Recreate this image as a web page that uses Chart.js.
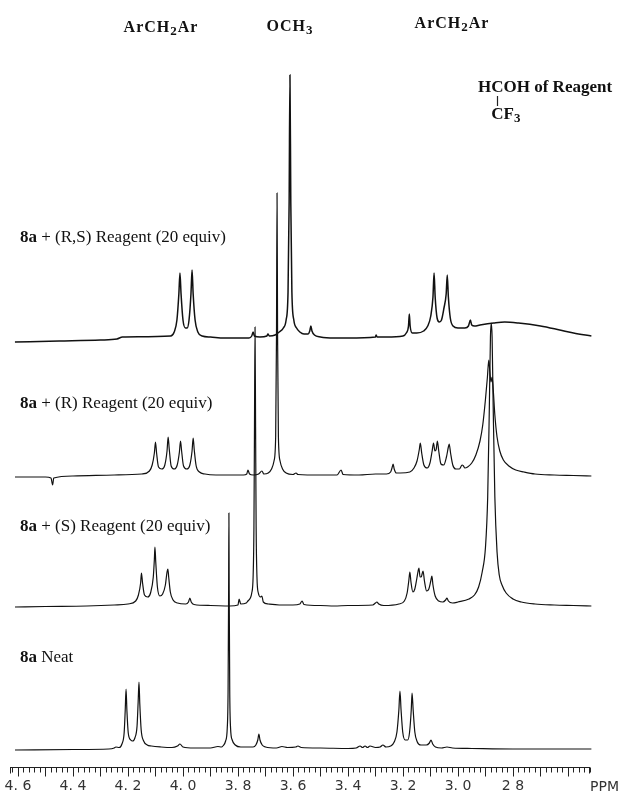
<!DOCTYPE html>
<html>
<head>
<meta charset="utf-8">
<script src="https://cdn.jsdelivr.net/npm/chart.js@4.4.1/dist/chart.umd.min.js"></script>
<style>
  html, body { margin: 0; padding: 0; background: #fff; }
  #wrap { width: 621px; height: 800px; position: relative; }
</style>
</head>
<body>
<div id="wrap"><canvas id="c" width="621" height="800"></canvas></div>
<script>
// ---------------- DATA (ppm, intensity above own baseline) ----------------
const tickValues = [4.6, 4.4, 4.2, 4.0, 3.8, 3.6, 3.4, 3.2, 3.0, 2.8];
const tickLabels = ["4. 6", "4. 4", "4. 2", "4. 0", "3. 8", "3. 6", "3. 4", "3. 2", "3. 0", "2 8"];
const axisUnit = "PPM";

const traceNames = [
  "8a + (R,S) Reagent (20 equiv)",
  "8a + (R) Reagent (20 equiv)",
  "8a + (S) Reagent (20 equiv)",
  "8a Neat"
];

const rsReagent = [
  [4.611,0],[4.45,1],[4.30,2],[4.24,3],[4.22,5],
  [4.045,6],[4.032,10],[4.022,22],[4.015,48],[4.011,69],[4.007,48],[4.000,22],[3.991,14],[3.985,14],
  [3.978,22],[3.971,48],[3.967,72],[3.963,48],[3.956,22],[3.946,10],[3.930,6],[3.90,5],[3.85,4],[3.80,4],
  [3.76,4],[3.750,6],[3.745,10],[3.740,6],[3.72,5],[3.695,6],[3.691,8],[3.686,6],[3.665,7],
  [3.650,10],[3.635,14],[3.625,22],[3.618,50],[3.614,140],[3.611,267],[3.608,140],[3.604,50],[3.597,22],
  [3.587,14],[3.575,10],[3.560,8],[3.545,8],[3.539,11],[3.535,16],[3.531,11],[3.522,7],[3.50,5],
  [3.45,4],[3.40,4],[3.300,5],[3.298,7],[3.294,5],[3.26,5],
  [3.200,6],[3.188,9],[3.180,16],[3.177,28],[3.174,16],[3.166,9],[3.150,9],
  [3.125,11],[3.110,16],[3.099,26],[3.091,45],[3.087,69],[3.083,45],[3.076,24],[3.068,20],[3.060,22],
  [3.051,34],[3.043,48],[3.039,67],[3.035,45],[3.028,24],[3.018,16],
  [3.00,14],[2.975,14],[2.962,16],[2.955,22],[2.950,17],[2.940,16],
  [2.92,17],[2.87,19],[2.83,20],[2.78,19],[2.70,16],[2.63,12],[2.58,9],[2.515,6]
];

const rReagent = [
  [4.611,0],[4.50,0],[4.480,-1],[4.474,-8],[4.470,-1],[4.40,1],[4.25,2],[4.15,3],
  [4.122,6],[4.112,12],[4.104,24],[4.100,35],[4.096,24],[4.089,10],[4.077,8],[4.066,12],[4.058,26],
  [4.054,40],[4.050,28],[4.043,11],[4.032,8],[4.021,12],[4.013,25],[4.009,36],[4.005,26],[3.998,11],
  [3.986,8],[3.975,12],[3.967,26],[3.963,39],[3.959,27],[3.952,11],[3.940,5],[3.92,3],[3.88,2],
  [3.78,2],[3.768,3],[3.764,7],[3.758,3],[3.745,2],[3.725,3],[3.713,6],[3.706,3],
  [3.690,4],[3.678,8],[3.669,16],[3.663,40],[3.660,140],[3.658,284],[3.656,140],[3.653,40],[3.647,16],
  [3.638,8],[3.625,4],[3.60,2.5],[3.589,4],[3.582,2.5],[3.50,2],[3.44,2],[3.425,7],[3.418,2.5],
  [3.36,2],[3.30,3],[3.26,3],[3.245,5],[3.240,9],[3.236,13],[3.232,8],[3.224,4],[3.210,4],
  [3.175,5],[3.160,9],[3.149,16],[3.141,27],[3.137,34],[3.132,24],[3.124,12],[3.112,9],[3.102,14],
  [3.094,26],[3.089,34],[3.084,26],[3.079,28],[3.075,36],[3.070,26],[3.062,13],[3.052,12],[3.042,20],
  [3.035,30],[3.032,33],[3.027,24],[3.019,12],[3.008,8],[2.995,8],[2.985,12],[2.980,11],[2.975,9],
  [2.965,10],[2.950,14],[2.935,22],[2.920,36],[2.910,52],[2.900,78],[2.893,100],[2.888,117],[2.884,105],
  [2.880,95],[2.876,100],[2.872,88],[2.866,62],[2.858,40],[2.848,26],[2.835,17],[2.815,11],[2.79,7],
  [2.76,5],[2.72,3],[2.65,2],[2.58,1.5],[2.515,1]
];

const sReagent = [
  [4.611,0],[4.50,0.5],[4.35,1],[4.25,2],[4.20,3],[4.172,6],
  [4.162,12],[4.154,24],[4.151,34],[4.147,24],[4.140,12],[4.128,10],[4.118,14],[4.108,30],[4.104,48],
  [4.102,60],[4.099,45],[4.093,20],[4.084,11],[4.074,13],[4.064,22],[4.058,35],[4.055,38],[4.052,30],
  [4.046,15],[4.036,7],[4.02,4],[3.99,3],[3.980,5],[3.975,9],[3.970,5],[3.96,2.5],[3.90,1.5],[3.83,1],
  [3.80,2],[3.796,8],[3.790,3],[3.770,4],[3.764,6],[3.755,9],
  [3.750,14],[3.745,30],[3.742,80],[3.740,180],[3.738,280],[3.736,180],[3.734,80],[3.731,30],[3.726,14],
  [3.718,10],[3.713,11],[3.708,5],[3.69,3],[3.65,2],[3.60,2],[3.575,3],[3.567,6],[3.560,2.5],[3.50,1.5],
  [3.45,1],[3.40,1.5],[3.31,2],[3.300,4],[3.295,5],[3.288,3],[3.27,1.5],
  [3.215,3],[3.195,6],[3.185,14],[3.179,26],[3.175,35],[3.171,25],[3.164,15],[3.157,18],[3.150,28],
  [3.145,36],[3.142,39],[3.138,30],[3.134,30],[3.127,36],[3.122,26],[3.114,16],[3.106,18],[3.099,26],
  [3.095,31],[3.091,22],[3.083,11],[3.070,6],[3.055,5],[3.045,7],[3.040,9],[3.035,6],[3.02,4],
  [3.00,5],[2.96,8],[2.94,12],[2.925,20],[2.912,35],[2.900,60],[2.892,110],[2.886,200],[2.882,270],
  [2.879,284],[2.876,270],[2.872,200],[2.866,110],[2.858,55],[2.850,32],[2.840,22],[2.825,14],[2.80,8],
  [2.77,5],[2.72,3],[2.65,2],[2.58,1.5],[2.515,1]
];

const neat = [
  [4.611,0],[4.40,0.5],[4.27,1],[4.25,2],[4.244,3],[4.232,2.5],
  [4.222,6],[4.214,17],[4.210,40],[4.207,61],[4.204,40],[4.199,17],[4.190,10],[4.183,9],[4.175,12],
  [4.167,24],[4.163,48],[4.160,68],[4.157,46],[4.152,20],[4.143,9],[4.130,5],[4.115,4],
  [4.08,3],[4.04,2.5],[4.020,4],[4.011,6],[4.000,3],[3.96,2],[3.90,2],[3.873,3.5],[3.86,3],
  [3.855,4],[3.845,9],[3.839,22],[3.836,60],[3.834,160],[3.833,237],[3.832,160],[3.830,60],[3.827,22],
  [3.821,10],[3.810,5],[3.79,3],[3.745,3],[3.735,5],[3.728,10],[3.724,16],[3.720,10],[3.712,5],[3.70,3],
  [3.66,2],[3.640,3.5],[3.62,2.5],[3.590,3],[3.582,4],[3.570,2.5],[3.50,2],[3.40,1.5],[3.370,2],
  [3.356,4],[3.347,2.5],[3.338,4],[3.329,2.5],[3.320,4],[3.30,2.5],[3.283,3],[3.273,5],[3.262,3],
  [3.245,4],[3.232,8],[3.222,18],[3.215,40],[3.211,59],[3.207,40],[3.201,18],[3.192,10],[3.183,10],
  [3.176,18],[3.170,40],[3.167,57],[3.163,40],[3.157,18],[3.148,8],[3.135,5],[3.115,5],[3.104,7],
  [3.098,10],[3.092,6],[3.082,3],[3.060,2],[3.040,3],[3.02,2],[2.95,1.5],[2.80,1],[2.65,1],[2.515,1]
];

// ---------------- LAYOUT / STYLE (kept separate from data) ----------------
const traces = [rsReagent, rReagent, sReagent, neat];
const stackOffsets = [425, 290, 160, 17];   // baseline height of each trace on the y scale
const lineWidths = [1.5, 1.2, 1.2, 1.2];
const X_MIN = 2.52, X_MAX = 4.629;
const Y_MAX = 767;

const datasets = traces.map((tr, i) => ({
  label: traceNames[i],
  data: tr.map(p => ({ x: p[0], y: p[1] + stackOffsets[i] })),
  borderColor: '#111',
  borderWidth: lineWidths[i],
  pointRadius: 0,
  fill: false,
  cubicInterpolationMode: 'monotone',
  clip: false
}));

// draw a run of text parts (with optional subscript) starting at x, or centred on x
function drawRich(ctx, parts, x, y, centred) {
  let total = 0;
  for (const p of parts) { ctx.font = p.font; total += ctx.measureText(p.t).width; }
  let cx = centred ? x - total / 2 : x;
  ctx.textAlign = 'left';
  for (const p of parts) {
    ctx.font = p.font;
    ctx.fillText(p.t, cx, y + (p.dy || 0));
    cx += ctx.measureText(p.t).width;
  }
}

const decor = {
  id: 'decor',
  afterDraw(chart) {
    const ctx = chart.ctx;
    const xs = chart.scales.x;
    const y0 = chart.chartArea.bottom + 0.5;
    ctx.save();
    // ruler
    ctx.strokeStyle = '#222';
    ctx.lineWidth = 1;
    ctx.beginPath();
    ctx.moveTo(xs.left, y0);
    ctx.lineTo(xs.right, y0);
    const k0 = Math.ceil(X_MIN / 0.02 - 1e-6), k1 = Math.floor(X_MAX / 0.02 + 1e-6);
    for (let k = k0; k <= k1; k++) {
      const px = Math.round(xs.getPixelForValue(k * 0.02)) + 0.5;
      const len = (k % 5 === 0) ? 9 : 5;
      ctx.moveTo(px, y0);
      ctx.lineTo(px, y0 + len);
    }
    ctx.moveTo(xs.left + 0.5, y0); ctx.lineTo(xs.left + 0.5, y0 + 6);
    ctx.moveTo(xs.right - 0.5, y0); ctx.lineTo(xs.right - 0.5, y0 + 6);
    ctx.stroke();

    // unit label
    ctx.fillStyle = '#333';
    ctx.font = '14px "DejaVu Sans"';
    ctx.textBaseline = 'middle';
    ctx.textAlign = 'left';
    ctx.fillText(axisUnit, 590, 787);

    // header labels
    ctx.fillStyle = '#111';
    const hb = 'bold 16px "Liberation Serif"', hs = 'bold 13px "Liberation Serif"';
    ctx.letterSpacing = '1px';
    const arch = [{ t: 'ArCH', font: hb }, { t: '2', font: hs, dy: 4 }, { t: 'Ar', font: hb }];
    drawRich(ctx, arch, 161, 28, true);
    drawRich(ctx, [{ t: 'OCH', font: hb }, { t: '3', font: hs, dy: 4 }], 290, 27, true);
    drawRich(ctx, arch, 452, 24, true);
    ctx.letterSpacing = '0px';

    // reagent annotation
    ctx.textAlign = 'left';
    ctx.font = 'bold 17px "Liberation Serif"';
    const hx = 478;
    ctx.fillText('HCOH of Reagent', hx, 88);
    const wH = ctx.measureText('H').width, wC = ctx.measureText('C').width;
    const cCenter = hx + wH + wC / 2;
    drawRich(ctx, [
      { t: 'CF', font: 'bold 17px "Liberation Serif"' },
      { t: '3', font: 'bold 13px "Liberation Serif"', dy: 4 }
    ], cCenter - wC / 2, 115, false);
    ctx.beginPath();
    ctx.lineWidth = 1.2;
    ctx.moveTo(Math.round(cCenter) + 0.5, 96); ctx.lineTo(Math.round(cCenter) + 0.5, 106);
    ctx.stroke();

    // trace labels
    const labelY = [238, 404, 527, 658];
    traceNames.forEach((name, i) => {
      const rest = name.slice(2);
      drawRich(ctx, [
        { t: '8a', font: 'bold 17px "Liberation Serif"' },
        { t: rest, font: '17px "Liberation Serif"' }
      ], 20, labelY[i], false);
    });
    ctx.restore();
  }
};

new Chart(document.getElementById('c'), {
  type: 'line',
  data: { datasets },
  options: {
    responsive: false,
    animation: false,
    events: [],
    layout: { padding: { left: 10, right: 31, top: 0, bottom: 0 } },
    plugins: { legend: { display: false }, tooltip: { enabled: false } },
    scales: {
      x: {
        type: 'linear',
        reverse: true,
        min: X_MIN,
        max: X_MAX,
        grid: { display: false, drawTicks: false },
        border: { display: false },
        afterBuildTicks: (scale) => { scale.ticks = tickValues.map(v => ({ value: v })); },
        afterFit: (scale) => { scale.height = 33; scale.paddingLeft = 0; scale.paddingRight = 0; },
        ticks: {
          autoSkip: false,
          maxRotation: 0,
          padding: 11,
          color: '#333',
          font: { family: 'DejaVu Sans', size: 14 },
          callback: (v) => {
            const i = tickValues.findIndex(t => Math.abs(t - v) < 1e-6);
            return i >= 0 ? tickLabels[i] : '';
          }
        }
      },
      y: { display: false, min: 0, max: Y_MAX }
    }
  },
  plugins: [decor]
});
</script>
</body>
</html>
